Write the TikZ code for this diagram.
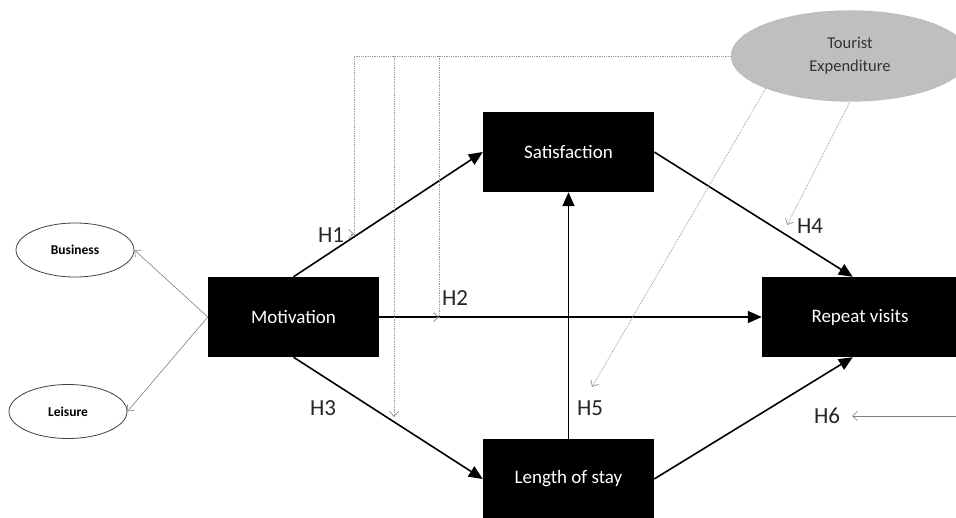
\documentclass[tikz,border=0pt]{standalone}
\usepackage{fontspec}
\setmainfont{Carlito}
\usetikzlibrary{arrows.meta,shapes.geometric}
\begin{document}
\begin{tikzpicture}[x=1pt,y=-1pt,
  blk/.style={fill=black, text=white, minimum width=171pt, minimum height=80pt, inner sep=0pt, font=\fontsize{19}{22}\selectfont},
  hlab/.style={inner sep=0pt, text=black!85, font=\fontsize{23}{26}\selectfont},
  smallell/.style={ellipse, draw=black!75, line width=0.8pt, minimum width=118pt, minimum height=54pt, inner sep=0pt, font=\bfseries\fontsize{13.5}{16}\selectfont},
  mainarr/.style={line width=1.6pt, -{Triangle[length=14pt,width=12pt]}},
  dotline/.style={draw=gray!80, line width=0.8pt, densely dotted},
  grayline/.style={draw=gray, line width=0.6pt},
  barb/.style={-{Straight Barb[length=5pt,width=9pt]}}
]
\useasboundingbox (0,0) rectangle (956,518);
\clip (0,0) rectangle (956,518);

% main nodes
\node[blk] (mot) at (293.5,317) {Motivation};
\node[blk] (sat) at (568.5,152) {Satisfaction};
\node[blk] (len) at (568.5,479) {Length of stay};
\node[blk, minimum width=196pt] (rep) at (860,317) {Repeat visits};
\node[ellipse, draw=gray, densely dotted, fill=gray!50, minimum width=238pt, minimum height=91pt, inner sep=0pt, align=center, text=black!80, font=\fontsize{16.5}{23}\selectfont] (te) at (850,56) {Tourist\\Expenditure};
\node[smallell] (bus) at (75,250) {Business};
\node[smallell] (lei) at (68,411.5) {Leisure};

% end points of moderating arrows
\coordinate (h1) at (354,234);
\coordinate (h2) at (439,317);
\coordinate (h3) at (394,417);
\coordinate (h4) at (787,225);
\coordinate (h5) at (592,387);
\coordinate (h6) at (852,416);
\coordinate (h6s) at (956,416);

% main arrows
\draw[mainarr] (mot.north) -- (sat.west);
\draw[mainarr] (mot.east) -- (rep.west);
\draw[mainarr] (mot.south) -- (len.west);
\draw[mainarr] (len.north) -- (sat.south);
\draw[mainarr] (sat.east) -- ([xshift=91pt]rep.north west);
\draw[mainarr] (len.east) -- ([xshift=91pt]rep.south west);

% motivation dimensions
\draw[grayline, barb] (mot.west) -- (bus.east);
\draw[grayline, barb] (mot.west) -- (lei.east);

% moderating paths from tourist expenditure
\draw[dotline] (te.west) -| (h1);
\draw[grayline, barb] ([xshift=-3pt]h1) -- (h1);
\draw[dotline] (te.west) -| (h2);
\draw[grayline, barb] ([xshift=-3pt]h2) -- (h2);
\draw[dotline, barb] (te.west) -| (h3);
\draw[dotline, barb] (te.201) -- (h5);
\draw[dotline, barb] (te.south) -- (h4);
\draw[grayline, barb] (h6s) -- (h6);

% labels
\node[hlab] (l1) at (331,235) {H1};
\node[hlab] (l2) at (455,298) {H2};
\node[hlab] (l3) at (323,408) {H3};
\node[hlab] (l4) at (810,226) {H4};
\node[hlab] (l5) at (590,408) {H5};
\node[hlab] (l6) at (827,416) {H6};
\end{tikzpicture}
\end{document}
